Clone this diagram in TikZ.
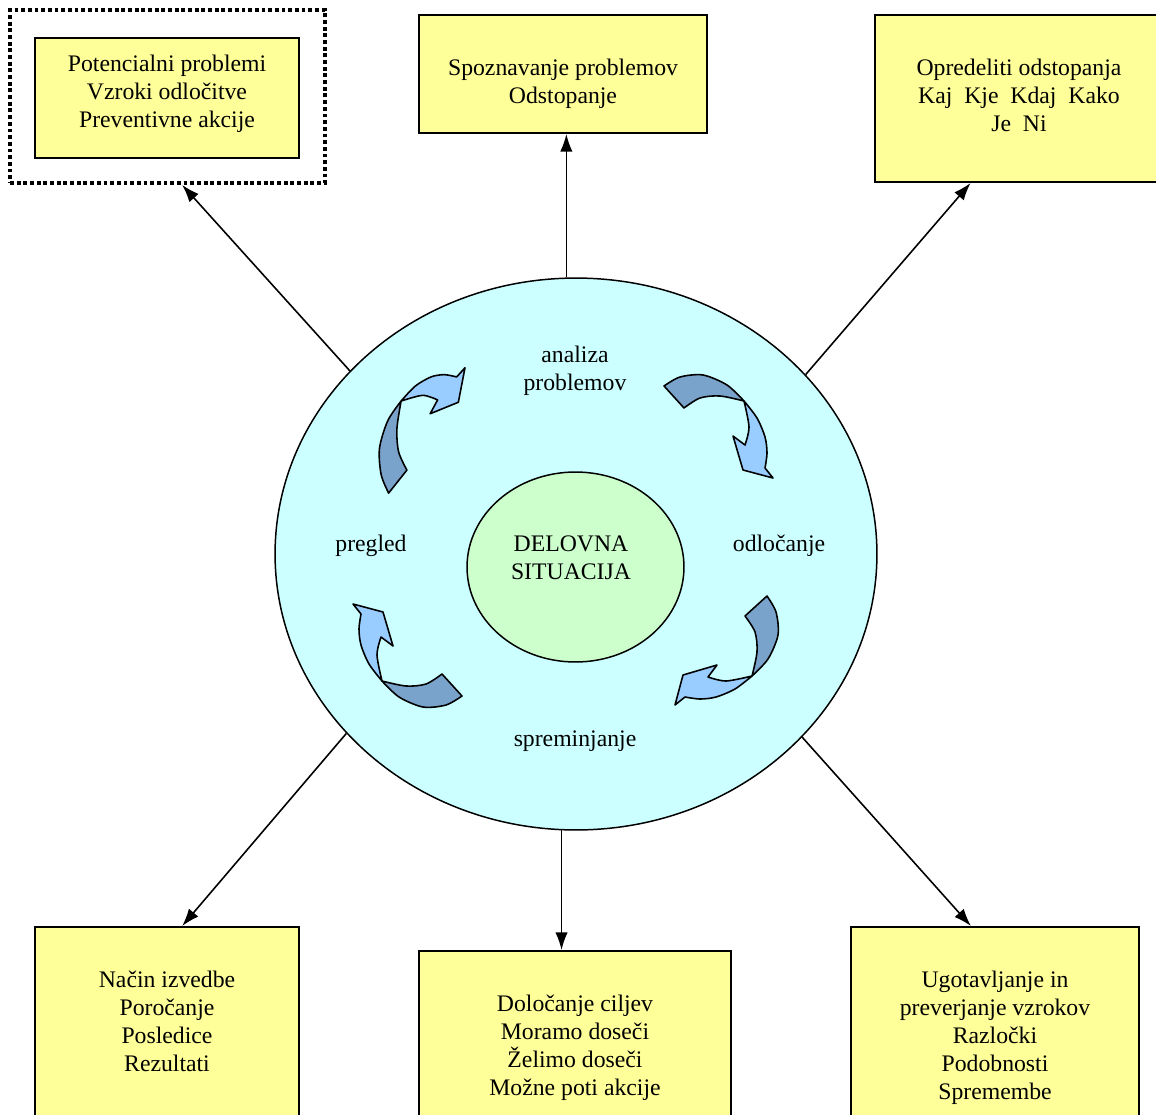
\documentclass[tikz,border=0pt]{standalone}
\usepackage{fontspec}
\setmainfont{Liberation Serif}
\usetikzlibrary{shapes.geometric, arrows.meta, positioning, calc}
\definecolor{boxyellow}{RGB}{255,255,153}
\definecolor{ringcyan}{RGB}{204,255,255}
\definecolor{coregreen}{RGB}{204,255,204}
\definecolor{arrowlight}{RGB}{153,204,255}
\definecolor{arrowdark}{RGB}{122,163,204}

% one bent arrow of the cycle, drawn in its upper-right position
\tikzset{
    cyclearrow/.pic={
        \filldraw[fill=arrowdark, draw=black, line width=0.9pt, line join=round]
            plot[smooth] coordinates {(-54,-39) (-38,-48) (-15,-50) (9,-40) (26,-24)}
            -- plot[smooth] coordinates {(26,-24) (2,-29) (-18,-27) (-34,-17)} -- cycle;
        \filldraw[fill=arrowlight, draw=black, line width=0.9pt, line join=round]
            plot[smooth] coordinates {(26,-24) (39,-7) (47,12) (49,28) (47,43)}
            -- (55,53) -- (25,45) -- (15,11) -- (27,20)
            -- plot[smooth] coordinates {(27,20) (31,2) (26,-24)} -- cycle;
    }
}

\begin{document}
\begin{tikzpicture}[
        x=0.02cm, y=-0.02cm,
        every node/.style={font=\fontsize{13.5}{15.9}\selectfont},
        ybox/.style={rectangle, draw, fill=boxyellow, line width=1.1pt},
        boxtext/.style={align=center, inner sep=0pt},
        link/.style={-{Latex[length=10pt, width=7pt]}, line width=0.9pt},
        >=Latex
    ]
    \clip (0,0) rectangle (1156,1115);

    % Top boxes
    \node[draw, line width=2.2pt, dash pattern=on 2.2pt off 1.6pt,
          minimum width=6.3cm, minimum height=3.46cm] (dots) at (167.5,96.5) {};
    \node[ybox, minimum width=5.28cm, minimum height=2.4cm] (pot) at (167,98) {};
    \node[boxtext, below=0.36cm of pot.north] (pottext)
        {Potencialni problemi\\Vzroki odločitve\\Preventivne akcije};

    \node[ybox, minimum width=5.76cm, minimum height=2.36cm] (spoz) at (563,74) {};
    \node[boxtext, below=0.9cm of spoz.north] (spoztext)
        {Spoznavanje problemov\\Odstopanje};

    \node[ybox, minimum width=5.76cm, minimum height=3.34cm] (opred) at (1019,98.5) {};
    \node[boxtext, below=0.9cm of opred.north] (opredtext)
        {Opredeliti odstopanja\\Kaj~~Kje~~Kdaj~~Kako\\Je~~Ni};

    % Bottom boxes
    \node[ybox, minimum width=5.28cm, minimum height=4.4cm] (lbox) at (167,1037) {};
    \node[boxtext, below=0.9cm of lbox.north] (lboxtext)
        {Način izvedbe\\Poročanje\\Posledice\\Rezultati};

    \node[ybox, minimum width=6.24cm, minimum height=4.4cm] (mbox) at (575,1061) {};
    \node[boxtext, below=0.9cm of mbox.north] (mboxtext)
        {Določanje ciljev\\Moramo doseči\\Želimo doseči\\Možne poti akcije};

    \node[ybox, minimum width=5.76cm, minimum height=4.4cm] (rbox) at (995,1037) {};
    \node[boxtext, below=0.9cm of rbox.north] (rboxtext)
        {Ugotavljanje in\\preverjanje vzrokov\\Razločki\\Podobnosti\\Spremembe};

    % Working situation
    \node[ellipse, draw, fill=ringcyan, line width=0.85pt,
          minimum width=12.04cm, minimum height=11.04cm] (sit) at (576,554) {};
    \node[ellipse, draw, fill=coregreen, line width=0.85pt,
          minimum width=4.34cm, minimum height=3.8cm] (core) at (575.5,567) {};
    \node[boxtext] (coretext) at (571,558) {DELOVNA\\SITUACIJA};

    \node[boxtext] (analiza) at (575,371) {analiza\\problemov};
    \node[boxtext] (odlocanje) at (779,546) {odločanje};
    \node[boxtext] (spreminjanje) at (575,741) {spreminjanje};
    \node[boxtext] (pregled) at (371,546) {pregled};

    % Cycle arrows
    \pic at (718,425) {cyclearrow};
    \pic[rotate=-90] at (728,650) {cyclearrow};
    \pic[rotate=180] at (408,657) {cyclearrow};
    \pic[xscale=0.83, yscale=1.15, rotate=90] at (421,431) {cyclearrow};

    % Arrows to the boxes
    \draw[link] (sit.141.8) -- ($(dots.south west)!0.546!(dots.south east)$);
    \draw[link] (sit.92.7) -- (sit.92.7 |- spoz.south);
    \draw[link] (sit.38.3) -- ($(opred.south west)!0.333!(opred.south east)$);
    \draw[link] (sit.218.3) -- ($(lbox.north west)!0.557!(lbox.north east)$);
    \draw[link] (sit.267.3) -- (sit.267.3 |- mbox.north);
    \draw[link] (sit.321.7) -- ($(rbox.north west)!0.417!(rbox.north east)$);
\end{tikzpicture}
\end{document}
